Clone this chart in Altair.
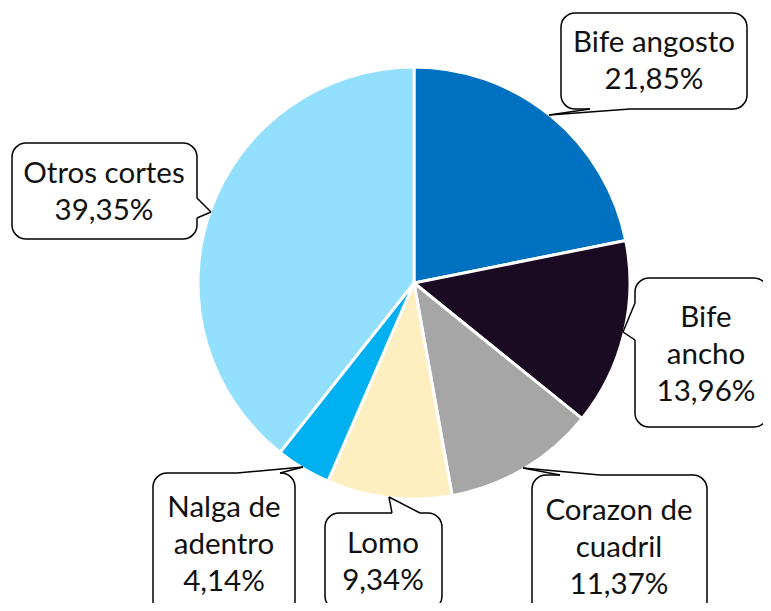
import altair as alt
import pandas as pd

# ---- data ----
cuts = ["Bife angosto", "Bife ancho", "Corazon de cuadril", "Lomo",
        "Nalga de adentro", "Otros cortes"]
shares = [21.85, 13.96, 11.37, 9.34, 4.14, 39.35]
label_lines = [["Bife angosto"], ["Bife", "ancho"], ["Corazon de", "cuadril"],
               ["Lomo"], ["Nalga de", "adentro"], ["Otros cortes"]]
colors = ["#0070C0", "#1B0B22", "#A6A6A6", "#FEEEC0", "#00B0F0", "#92DFFE"]

# ---- layout (page pixel coordinates) ----
W, H = 755, 595
OX, OY = 8, 8
PIE_CX, PIE_CY, PIE_R = 414, 283, 216
LINE_H = 37
# box x1, x2, y1, y2 ; tip tx, ty ; wedge base b1(x,y), b2(x,y) ; text center
boxes = [
    (561, 747, 13, 109, 549, 115, 590, 109, 630, 109, 654, 61),
    (635, 768, 278, 427, 623, 332, 635, 303, 635, 340, 706, 355),
    (532, 707, 475, 625, 523, 468, 560, 475, 600, 475, 619, 548),
    (325, 442, 513, 610, 389, 497, 392, 513, 420, 513, 383, 562),
    (153, 295, 473, 625, 303, 467, 237, 473, 280, 473, 224, 545),
    (12, 197, 143, 239, 211, 212, 197, 198, 197, 218, 104, 192),
]

xs = alt.Scale(domain=[OX, OX + W], nice=False, zero=False)
ys = alt.Scale(domain=[OY, OY + H], nice=False, zero=False, reverse=True)

def pct(v):
    return f"{v:.2f}".replace(".", ",") + "%"

df_pie = pd.DataFrame({"cut": cuts, "share": shares, "idx": list(range(len(cuts)))})

rows, segs, gaps = [], [], []
for cut, v, lines, b in zip(cuts, shares, label_lines, boxes):
    x1, x2, y1, y2, tx, ty, bx1, by1, bx2, by2, cx, cy = b
    all_lines = lines + [pct(v)]
    rows.append({"cut": cut, "x1": x1, "x2": x2, "y1": y1, "y2": y2,
                 "cx": cx, "cy": cy - (len(all_lines) - 1) * LINE_H / 2,
                 "label": "\n".join(all_lines)})
    segs.append({"xa": bx1, "ya": by1, "xb": tx, "yb": ty})
    segs.append({"xa": tx, "ya": ty, "xb": bx2, "yb": by2})
    gaps.append({"xa": bx1, "ya": by1, "xb": bx2, "yb": by2})
df_box = pd.DataFrame(rows)
df_seg = pd.DataFrame(segs)
df_gap = pd.DataFrame(gaps)

pie = alt.Chart(df_pie).mark_arc(radius=PIE_R, stroke="white", strokeWidth=3).encode(
    theta=alt.Theta("share:Q", stack=True),
    order=alt.Order("idx:Q"),
    color=alt.Color("cut:N", scale=alt.Scale(domain=cuts, range=colors), legend=None),
    x=alt.XDatum(PIE_CX, scale=xs, axis=None),
    y=alt.YDatum(PIE_CY, scale=ys, axis=None),
)

rect = alt.Chart(df_box).mark_rect(cornerRadius=14, fill="white", stroke="black",
                                   strokeWidth=1.5).encode(
    x=alt.X("x1:Q", scale=xs, axis=None), x2="x2:Q",
    y=alt.Y("y1:Q", scale=ys, axis=None), y2="y2:Q",
)

gap = alt.Chart(df_gap).mark_rule(color="white", strokeWidth=3.5).encode(
    x=alt.X("xa:Q", scale=xs, axis=None), x2="xb:Q",
    y=alt.Y("ya:Q", scale=ys, axis=None), y2="yb:Q",
)

wedge = alt.Chart(df_seg).mark_rule(color="black", strokeWidth=1.5).encode(
    x=alt.X("xa:Q", scale=xs, axis=None), x2="xb:Q",
    y=alt.Y("ya:Q", scale=ys, axis=None), y2="yb:Q",
)

text = alt.Chart(df_box).mark_text(font="Lato", fontSize=29.5, lineBreak="\n",
                                   lineHeight=LINE_H, align="center", baseline="middle",
                                   color="#111111").encode(
    x=alt.X("cx:Q", scale=xs, axis=None),
    y=alt.Y("cy:Q", scale=ys, axis=None),
    text="label:N",
)

chart = alt.layer(pie, rect, gap, wedge, text).properties(
    width=W, height=H, padding=0, autosize=alt.AutoSizeParams(type="none"),
).configure_view(stroke=None)

chart.save("out.html", embed_options={"renderer": "svg", "actions": False})
